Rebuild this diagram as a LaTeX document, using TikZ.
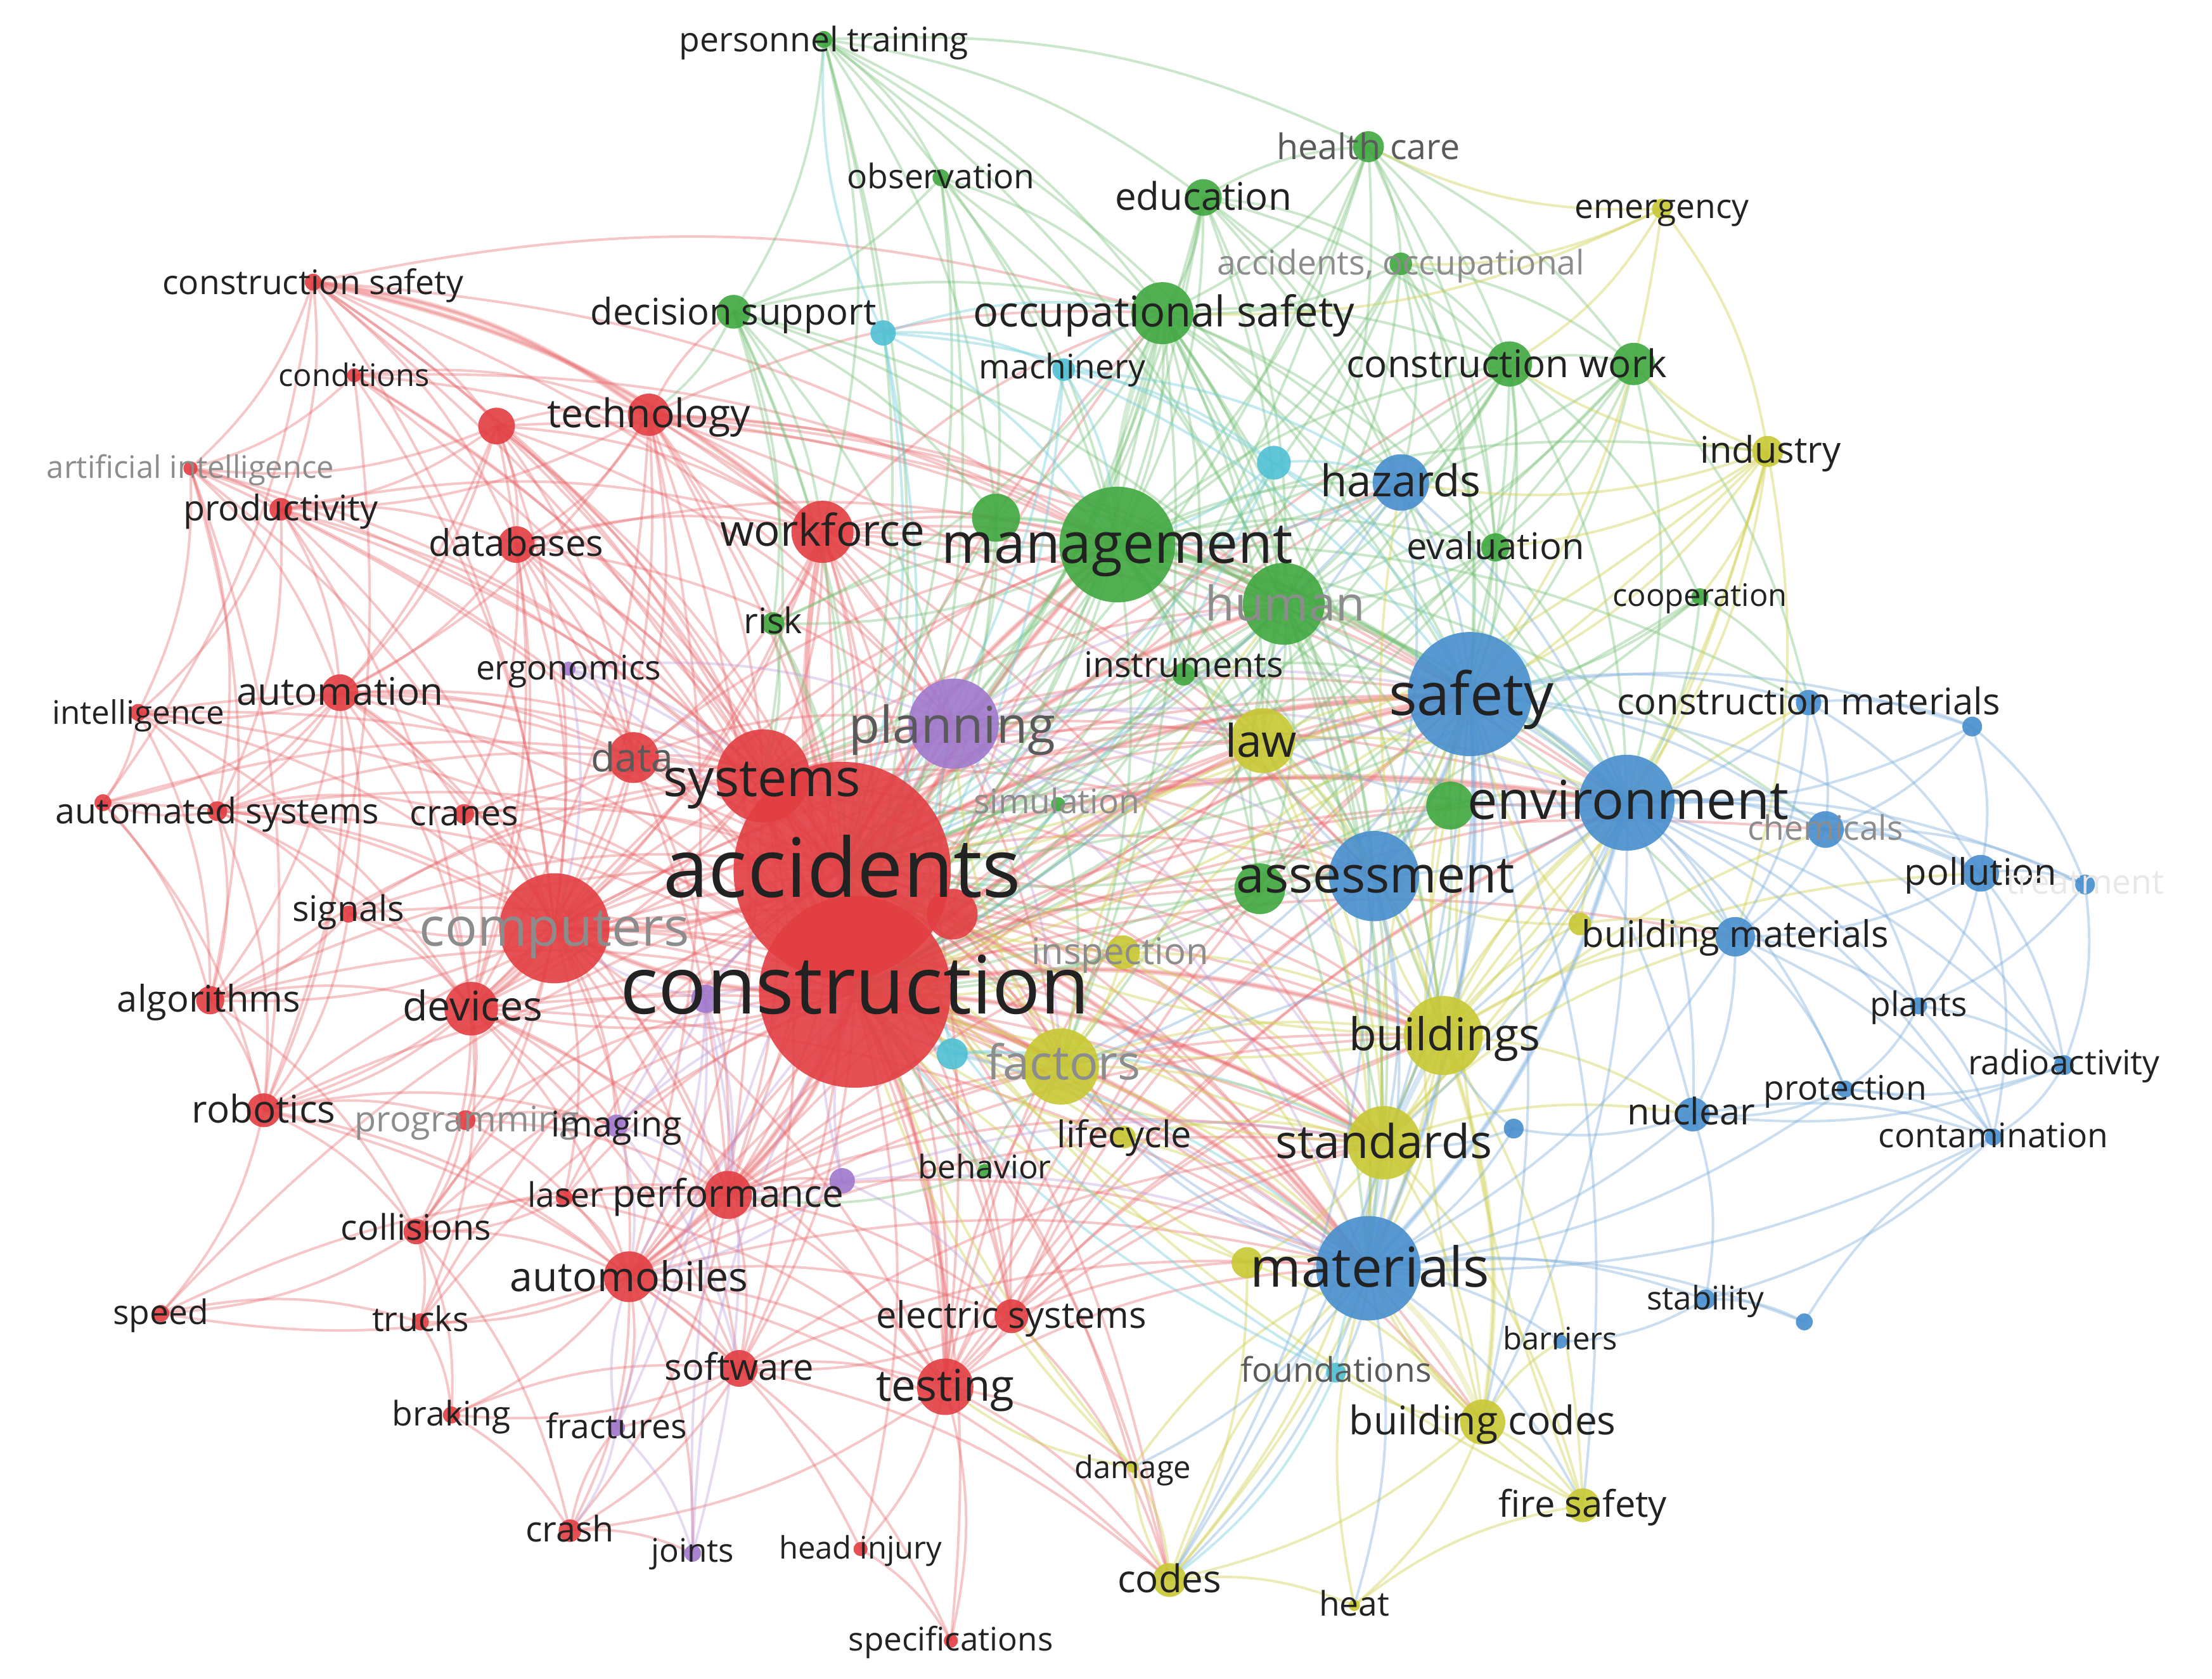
\documentclass[tikz,border=0pt]{standalone}
\usepackage{fontspec}
\setmainfont{Open Sans}
\definecolor{cR}{RGB}{226,62,66}
\definecolor{cG}{RGB}{64,168,64}
\definecolor{cB}{RGB}{72,142,206}
\definecolor{cY}{RGB}{200,200,52}
\definecolor{cP}{RGB}{160,120,205}
\definecolor{cC}{RGB}{80,192,212}
\definecolor{tD}{RGB}{34,34,34}
\definecolor{tM}{RGB}{90,90,90}
\definecolor{tL}{RGB}{140,140,140}
\definecolor{tX}{RGB}{232,232,232}
\tikzset{
  eR/.style={draw=cR!80!white, line width=1.8pt, opacity=.36},
  eG/.style={draw=cG!75!white, line width=1.8pt, opacity=.36},
  eB/.style={draw=cB!75!white, line width=1.8pt, opacity=.38},
  eY/.style={draw=cY!85!white, line width=1.8pt, opacity=.42},
  eP/.style={draw=cP!75!white, line width=1.8pt, opacity=.36},
  eC/.style={draw=cC!80!white, line width=1.8pt, opacity=.42},
  wide/.style={line width=3.8pt, opacity=.28},
  dot/.style={circle, inner sep=0pt, outer sep=0pt, opacity=.9},
  lab/.style={inner sep=0pt, anchor=base}
}
\newcommand\es[3]{\foreach \tgt in {#3}{\draw[#1] (#2) to[bend left=14] (\tgt);}}
\def\nodelist{
cs/222/200/6/cR, cond/251/266/5/cR, rn1/352/302/13/cR, tech/460/294/15/cR, ai/135/332/5/cR,
prod/199/361/8/cR, db/366/386/13/cR, wf/583/377/22/cR, auto/241/491/13/cR, intel/98/505/6/cR,
data/449/537/18/cR, sys/541/550/33/cR, as/154/575/7/cR, rn2/73/569/6/cR, cran/329/577/7/cR,
acc/597/617/77/cR, con/606/703/68/cR, rn3/675/648/18/cR, comp/393/658/39/cR, sig/247/648/6/cR,
alg/149/709/10/cR, dev/334/715/19/cR, rob/187/787/12/cR, prog/330/794/7/cR, las/400/849/6/cR,
perf/516/847/17/cR, coll/295/873/9/cR, autom/446/905/18/cR, spd/114/931/6/cR, trk/298/937/6/cR,
es/717/933/12/cR, sw/524/970/13/cR, test/670/983/20/cR, brk/320/1003/6/cR, crash/404/1085/8/cR,
hi/610/1098/5/cR, spec/674/1163/5/cR,
ergo/403/474/5/cP, plan/676/513/32/cP, img/437/798/8/cP, pn1/500/708/10/cP, pn2/597/837/9/cP,
frac/437/1012/6/cP, jnt/491/1101/6/cP,
pt/584/28/6/cG, obs/667/126/6/cG, edu/853/140/13/cG, hc/970/104/11/cG, ao/993/187/8/cG,
ds/520/221/12/cG, os/824/222/22/cG, cw/1070/258/16/cG, gn1/1158/258/15/cG, gn2/706/367/17/cG,
mgmt/792/386/41/cG, eval/1060/388/10/cG, hum/910/428/29/cG, coop/1205/423/6/cG, risk/548/442/8/cG,
inst/839/478/8/cG, sim/750/570/5/cG, gn3/1028/571/17/cG, gn4/893/630/18/cG, beh/698/830/5/cG,
emer/1178/148/7/cY, ind/1253/320/11/cY, law/895/525/23/cY, insp/796/675/12/cY, yn1/1120/655/8/cY,
fact/752/756/27/cY, bldg/1023/734/28/cY, std/981/810/26/cY, lc/797/806/8/cY, yn2/884/895/11/cY,
bc/1051/1008/16/cY, dmg/803/1040/4/cY, fs/1122/1067/12/cY, codes/829/1120/12/cY, heat/960/1138/4/cY,
haz/993/342/20/cB, safe/1042/492/44/cB, cm/1282/498/9/cB, bn1/1398/515/7/cB, env/1153/569/34/cB,
chem/1294/588/13/cB, assess/974/621/32/cB, poll/1404/619/13/cB, treat/1478/627/7/cB, bm/1230/664/14/cB,
plants/1360/713/6/cB, radio/1463/755/7/cB, prot/1308/772/6/cB, nuc/1200/790/12/cB, bn2/1073/800/7/cB,
cont/1413/806/6/cB, mat/970/899/37/cB, stab/1209/921/7/cB, bn3/1279/937/6/cB, barr/1106/951/5/cB,
cn1/626/236/9/cC, mach/754/262/8/cC, cn2/903/328/12/cC, cn3/675/747/11/cC, found/947/973/7/cC}
\def\labellist{
pt/584/28/24/personnel training/tD, obs/667/125/24/observation/tD, hc/970/104/25/health care/tM,
edu/853/139/27/education/tD, emer/1178/146/24/emergency/tD, ao/993/186/24/{accidents, occupational}/tL,
cs/222/200/24/construction safety/tD, ds/520/221/26/decision support/tD, os/825/221/30/occupational safety/tD,
mach/753/260/24/machinery/tD, cw/1068/258/27/construction work/tD, cond/251/266/22/conditions/tD,
tech/460/293/28/technology/tD, ind/1255/319/26/industry/tD, ai/135/331/22/artificial intelligence/tL,
haz/993/341/31/hazards/tD, prod/199/360/25/productivity/tD, wf/583/376/31/workforce/tD,
mgmt/792/385/40/management/tD, db/366/385/26/databases/tD, eval/1060/387/26/evaluation/tD,
coop/1205/422/22/cooperation/tD, hum/911/428/34/human/tL, risk/548/440/25/risk/tD,
inst/839/471/25/instruments/tD, ergo/403/473/24/ergonomics/tD, auto/241/490/27/automation/tD,
safe/1043/492/42/safety/tD, cm/1282/497/26/construction materials/tD, intel/98/505/23/intelligence/tD,
plan/675/514/36/planning/tM, law/894/525/32/law/tD, data/448/537/28/data/tM,
sys/540/551/37/systems/tD, env/1154/567/38/environment/tD, sim/749/568/24/simulation/tL,
as/154/575/25/automated systems/tD, cran/329/576/25/cranes/tD, chem/1294/587/24/chemicals/tL,
acc/597/615/58/accidents/tD, poll/1404/618/26/pollution/tD, assess/975/620/36/assessment/tD,
treat/1478/625/24/treatment/tX, sig/247/644/25/signals/tD, comp/393/657/38/computers/tL,
bm/1230/662/26/building materials/tD, insp/794/674/26/inspection/tL, con/606/698/57/construction/tD,
alg/148/708/26/algorithms/tD, dev/335/713/29/devices/tD, plants/1360/712/24/plants/tD,
bldg/1024/733/32/buildings/tD, fact/754/753/34/factors/tL, radio/1463/753/24/radioactivity/tD,
prot/1308/771/24/protection/tD, rob/187/786/27/robotics/tD, nuc/1199/788/26/nuclear/tD,
prog/331/793/25/programming/tL, img/437/797/25/imaging/tD, lc/797/804/26/lifecycle/tD,
cont/1413/805/24/contamination/tD, std/981/809/33/standards/tD, beh/698/827/23/behavior/tD,
las/401/847/24/laser/tD, perf/516/846/27/performance/tD, coll/295/870/25/collisions/tD,
mat/971/898/39/materials/tD, autom/446/905/29/automobiles/tD, stab/1209/920/23/stability/tD,
spd/114/930/24/speed/tD, es/717/932/26/electric systems/tD, trk/298/935/24/trucks/tD,
barr/1106/949/22/barriers/tD, found/947/971/24/foundations/tM, sw/524/969/26/software/tD,
test/670/982/31/testing/tD, brk/320/1002/24/braking/tD, bc/1051/1007/28/building codes/tD,
frac/437/1011/24/fractures/tD, dmg/803/1040/22/damage/tD, fs/1122/1066/26/fire safety/tD,
crash/404/1084/25/crash/tD, jnt/491/1099/23/joints/tD, hi/610/1097/22/head injury/tD,
codes/829/1119/27/codes/tD, heat/960/1137/24/heat/tD, spec/674/1162/23/specifications/tD}
\begin{document}
\begin{tikzpicture}[x=1pt,y=-1pt]
\useasboundingbox (0,0) rectangle (1568,1190);
\fill[white] (0,0) rectangle (1568,1190);
\foreach \nm/\xx/\yy/\rad/\col in \nodelist {\coordinate (\nm) at (\xx,\yy);}
% ---------- thick hub links
\foreach \a/\b/\col in {acc/con/cR, acc/sys/cR, con/sys/cR, acc/comp/cR, con/comp/cR, acc/mgmt/cR, con/mgmt/cR,
  acc/plan/cP, con/plan/cP, mgmt/safe/cG, safe/env/cB, acc/safe/cR, con/safe/cR, env/mat/cB, safe/mat/cB,
  con/mat/cR, acc/mat/cR, mat/std/cB, mgmt/hum/cG, mgmt/os/cG, acc/wf/cR, con/wf/cR, comp/dev/cR,
  con/autom/cR, con/test/cR, safe/assess/cB, con/bldg/cR, con/std/cR, acc/env/cR, mat/bldg/cB,
  mat/bc/cY, bldg/bc/cY, acc/hum/cR, con/fact/cR, con/perf/cR, cs/tech/cR, cs/wf/cR}
  {\draw[wide, draw=\col!80!white] (\a) to[bend left=14] (\b);}
% ---------- red
\es{eR}{cs}{rn1,tech,db,wf,acc,con,sys,ai,prod,mgmt,comp,plan,os,rn2}
\es{eR}{cond}{tech,acc,con,sys,comp,rob,ai,wf,mgmt}
\es{eR}{rn1}{tech,db,wf,acc,con,sys,comp,auto,prod,data,dev,ai,plan,mgmt,as}
\es{eR}{tech}{db,wf,acc,con,sys,comp,auto,data,dev,mgmt,plan,safe,os,ds,autom,perf,prod,hum,env,assess,std}
\es{eR}{ai}{prod,auto,intel,as,comp,acc,con,alg,rob,sys}
\es{eR}{prod}{db,auto,acc,con,comp,sys,dev,wf,as,intel}
\es{eR}{db}{wf,acc,con,sys,comp,data,dev,auto,plan,mgmt,cran,perf}
\es{eR}{wf}{acc,con,sys,mgmt,plan,data,safe,hum,os,comp,dev,risk,perf,test,gn2,env,assess,law,fact}
\es{eR}{auto}{intel,as,acc,con,sys,comp,dev,data,alg,rob,cran,sig,rn2,perf}
\es{eR}{intel}{as,rn2,comp,acc,con,alg,sys,dev}
\es{eR}{data}{sys,acc,con,comp,plan,dev,perf,mgmt,cran}
\es{eR}{sys}{acc,con,comp,plan,mgmt,safe,env,dev,perf,autom,test,sw,fact,hum,law,mat,assess,es,std,bldg}
\es{eR}{as}{rn2,comp,acc,con,sys,dev,alg,rob,sig,cran}
\es{eR}{rn2}{alg,rob,comp,sys}
\es{eR}{cran}{acc,con,comp,sys,dev}
\es{eR}{acc}{comp,plan,mgmt,safe,env,mat,assess,bldg,std,fact,law,hum,os,test,autom,perf,sw,es,dev,insp,lc,codes,bc,haz,rn3}
\es{eR}{con}{comp,plan,mgmt,safe,env,mat,assess,bldg,std,fact,law,hum,os,test,autom,perf,sw,es,dev,insp,lc,codes,bc,haz,cw,chem,bm,dmg,spec,hi,rn3,gn3,gn4}
\es{eR}{rn3}{plan,fact,mat,std,safe,mgmt}
\es{eR}{comp}{dev,alg,rob,sig,prog,img,perf,autom,sw,test,coll,plan,mgmt,safe,las,env,mat,std,bldg,fact,law}
\es{eR}{sig}{dev,alg,acc,con,rob,sys}
\es{eR}{alg}{dev,rob,acc,con,coll,sys}
\es{eR}{dev}{rob,prog,img,perf,autom,coll,trk,sw,test,mat,std,safe}
\es{eR}{rob}{prog,coll,autom,acc,con,spd,img,sw}
\es{eR}{prog}{img,perf,autom,coll,con}
\es{eR}{las}{perf,autom,acc,con,test,coll}
\es{eR}{perf}{autom,sw,test,es,mat,std,fact,pn2,crash,bldg,safe,env}
\es{eR}{coll}{autom,trk,spd,brk,crash,acc,con,perf}
\es{eR}{autom}{sw,test,es,crash,brk,trk,spd,frac,jnt,hi,safe,mat,std,bldg,fact,codes,law}
\es{eR}{spd}{trk,perf,acc}
\es{eR}{trk}{brk,con,acc}
\es{eR}{es}{test,sw,mat,std,bldg,codes,fact,safe,env,assess}
\es{eR}{sw}{test,crash,brk,frac,spec,mat,std,codes}
\es{eR}{test}{crash,hi,spec,codes,mat,std,bldg,dmg,fact,safe,env,law,assess}
\es{eR}{brk}{crash,sw}
\es{eR}{crash}{frac,jnt}
\es{eR}{hi}{spec}
% ---------- green
\es{eG}{pt}{obs,ds,os,mgmt,edu,hum,acc,con,wf,gn2,hc,safe}
\es{eG}{obs}{os,mgmt,hum,acc,con,ds,gn2}
\es{eG}{edu}{os,mgmt,hc,ao,hum,cw,acc,con,safe,haz,eval,plan,law}
\es{eG}{hc}{os,mgmt,ao,cw,gn1,hum,safe,eval,acc,con}
\es{eG}{ao}{os,mgmt,cw,gn1,hum,safe,eval,haz,acc,con}
\es{eG}{ds}{os,mgmt,hum,acc,con,wf,tech,sys,plan,risk,gn2}
\es{eG}{os}{mgmt,hum,cw,eval,safe,haz,acc,con,env,assess,law,inst,gn2,risk,plan,std,bldg,mat,fact}
\es{eG}{cw}{gn1,mgmt,hum,eval,safe,haz,env,assess,acc,con,coop}
\es{eG}{gn1}{mgmt,hum,eval,safe,env,cm,acc,con}
\es{eG}{gn2}{mgmt,acc,con,sys,plan,hum}
\es{eG}{mgmt}{hum,safe,env,assess,acc,con,plan,law,eval,inst,risk,std,bldg,mat,fact,gn3,gn4,sys,haz,cw,ind,cm,chem,bm}
\es{eG}{eval}{safe,env,hum,assess,acc,con}
\es{eG}{hum}{safe,env,assess,acc,con,plan,law,gn3,gn4,inst,fact,std,mat,bldg,haz}
\es{eG}{coop}{safe,env,cm,acc,con}
\es{eG}{inst}{acc,con,plan,safe,law,assess}
\es{eG}{sim}{acc,con,plan,sys,fact}
\es{eG}{gn3}{safe,env,assess,acc,con,std}
\es{eG}{gn4}{assess,safe,acc,con,hum}
\es{eG}{risk}{acc,con,sys,mgmt}
\es{eG}{beh}{acc,con,perf,fact}
% ---------- yellow
\es{eY}{emer}{ind,cw,os,ao,hc,safe}
\es{eY}{ind}{cw,gn1,safe,env,haz,eval,bldg,std,acc,con,coop,bm}
\es{eY}{law}{acc,con,safe,env,assess,bldg,std,mat}
\es{eY}{insp}{acc,con,fact,std,mat,bldg}
\es{eY}{fact}{acc,con,std,mat,bldg,plan,lc,hum,safe}
\es{eY}{bldg}{std,mat,safe,env,assess,bc,fs,codes,acc,con,bm,yn1,haz,cm,nuc,poll}
\es{eY}{std}{mat,safe,env,bc,fs,codes,acc,con,yn2,nuc,bm,chem}
\es{eY}{lc}{acc,con,mat,std}
\es{eY}{yn1}{env,safe,bm,assess}
\es{eY}{yn2}{mat,bc,acc,con,codes}
\es{eY}{bc}{mat,fs,codes,heat,found,barr,safe}
\es{eY}{dmg}{codes,mat,acc,con,test}
\es{eY}{fs}{mat,safe,acc}
\es{eY}{codes}{mat,heat,dmg}
\es{eY}{heat}{mat,fs}
% ---------- blue
\es{eB}{haz}{safe,env,acc,con,mgmt,assess}
\es{eB}{safe}{env,assess,mat,bldg,std,cm,chem,poll,bm,nuc,bn1,law,fact,codes,bc,fs,hum}
\es{eB}{cm}{env,bn1,chem,poll,bm}
\es{eB}{bn1}{env,chem,poll,treat}
\es{eB}{env}{assess,chem,poll,bm,plants,radio,nuc,cont,mat,treat,prot,bldg,std,law,fact,bc}
\es{eB}{chem}{poll,treat,bm,plants,radio}
\es{eB}{assess}{mat,bldg,std,fact,law,codes}
\es{eB}{poll}{treat,plants,radio,cont,bm}
\es{eB}{treat}{radio,plants}
\es{eB}{bm}{plants,nuc,mat,prot,cont}
\es{eB}{plants}{radio,prot,cont}
\es{eB}{radio}{prot,cont,nuc}
\es{eB}{prot}{nuc,cont,mat}
\es{eB}{nuc}{mat,cont,stab,bn2}
\es{eB}{bn2}{mat,bldg,std}
\es{eB}{cont}{mat,stab}
\es{eB}{mat}{stab,barr,bn3,found,fact,codes,fs,heat,dmg,lc}
\es{eB}{stab}{bn3,barr}
\es{eB}{bn3}{cont}
% ---------- cyan
\es{eC}{cn1}{mach,mgmt,acc,con,cn2,os,pt}
\es{eC}{mach}{cn2,mgmt,os,acc,con,safe,haz}
\es{eC}{cn2}{haz,safe,mgmt,acc,con,env}
\es{eC}{cn3}{acc,con,fact,mat,std,plan}
\es{eC}{found}{mat,codes,acc,con}
% ---------- purple
\es{eP}{plan}{safe,env,fact,hum,law,assess,mat,bldg,std,sys}
\es{eP}{ergo}{acc,con,sys,comp,plan}
\es{eP}{pn1}{acc,con,comp,img,autom,frac,jnt,perf,mat}
\es{eP}{pn2}{perf,acc,con,autom,mat,std,es}
\es{eP}{img}{autom,perf,acc,con,sw}
\es{eP}{frac}{autom,crash,jnt,con}
\es{eP}{jnt}{con,acc}
% ---------- circles
\foreach \nm/\xx/\yy/\rad/\col in \nodelist
  {\node[dot, fill=\col, minimum size={2*\rad}] (c\nm) at (\nm) {};}
% ---------- labels
\foreach \nm/\xx/\yy/\fsz/\txt/\tcol in \labellist
  {\node[lab, text=\tcol, font=\fontsize{\fsz}{\fsz}\selectfont] (l\nm) at (\xx,{\yy+0.36*\fsz}) {\txt};}
\end{tikzpicture}
\end{document}
